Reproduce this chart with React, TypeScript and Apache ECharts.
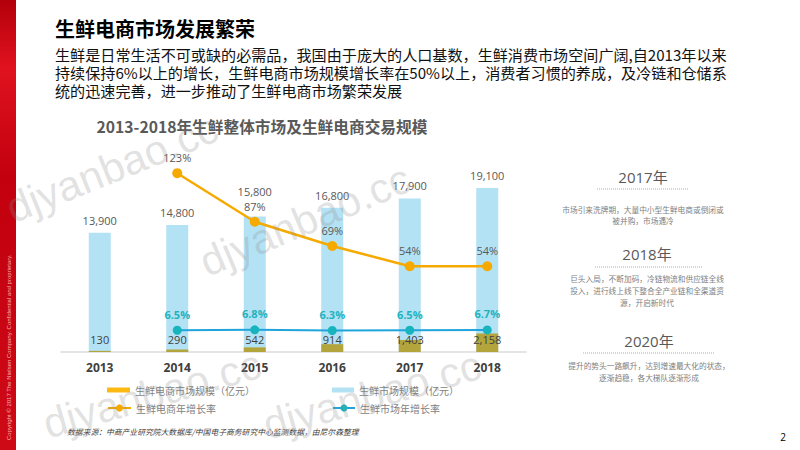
import React, { useEffect, useRef } from "react";
import * as echarts from "echarts";

const years = ["2013", "2014", "2015", "2016", "2017", "2018"];
const marketSize = [13900, 14800, 15800, 16800, 17900, 19100];
const ecomSize = [130, 290, 542, 914, 1403, 2158];
const ecomGrowth = [null, 123, 87, 69, 54, 54];
const marketGrowth = [null, 6.5, 6.8, 6.3, 6.5, 6.7];

const nameEcomSize = "生鲜电商市场规模（亿元）";
const nameMarketSize = "生鲜市场规模（亿元）";
const nameEcomGrowth = "生鲜电商年增长率";
const nameMarketGrowth = "生鲜市场年增长率";

const pageTitle = "生鲜电商市场发展繁荣";
const bodyLines = [
  "生鲜是日常生活不可或缺的必需品，我国由于庞大的人口基数，生鲜消费市场空间广阔,自2013年以来",
  "持续保持6%以上的增长，生鲜电商市场规模增长率在50%以上，消费者习惯的养成，及冷链和仓储系",
  "统的迅速完善，进一步推动了生鲜电商市场繁荣发展",
];
const chartTitle = "2013-2018年生鲜整体市场及生鲜电商交易规模";
const sourceText = "数据来源：中商产业研究院大数据库/中国电子商务研究中心监测数据，由尼尔森整理";
const copyrightText = "Copyright © 2017 The Nielsen Company. Confidential and proprietary.";

const panelYears = ["2017年", "2018年", "2020年"];
const panelTexts = [
  ["市场引来洗牌期，大量中小型生鲜电商或倒闭或", "被并购，市场遇冷"],
  ["巨头入局，不断加码，冷链物流和供应链全线", "投入，进行线上线下整合全产业链和全渠道资", "源，开启新时代"],
  ["提升的势头一路飙升，达到增速最大化的状态，", "逐渐趋稳，各大梯队逐渐形成"],
];
const watermark = "djyanbao.cc";

const CJK = "'Noto Sans CJK SC', 'Noto Sans', sans-serif";
const NUM = "'Open Sans', 'Noto Sans CJK SC', sans-serif";

const fmt = (v: number) => v.toLocaleString("en-US");

export default function App() {
  const ref = useRef<HTMLDivElement>(null);
  useEffect(() => {
    if (!ref.current) return;
    const chart = echarts.init(ref.current, undefined, { renderer: "svg" });

    const panelLayout = [
      { cx: 643, ty: 177, dy: 189, dx1: 597, dx2: 688, ly: [209, 220] },
      { cx: 647, ty: 254, dy: 267, dx1: 595, dx2: 702, ly: [278, 290, 302] },
      { cx: 649, ty: 341, dy: 353, dx1: 583, dx2: 715, ly: [365, 377] },
    ];
    const panelGraphics: any[] = [];
    panelYears.forEach((yr, i) => {
      const p = panelLayout[i];
      panelGraphics.push({
        type: "text", x: p.cx, y: p.ty,
        style: { text: yr, fontSize: 15, fontFamily: NUM, fill: "#595959", align: "center", verticalAlign: "middle" },
      });
      panelGraphics.push({
        type: "line", shape: { x1: p.dx1, y1: p.dy, x2: p.dx2, y2: p.dy },
        style: { stroke: "#b0b0b0", lineWidth: 1, lineDash: [1, 1] },
      });
      panelTexts[i].forEach((t, j) => {
        panelGraphics.push({
          type: "text", x: p.cx, y: p.ly[j],
          style: { text: t, fontSize: 7.7, fontFamily: CJK, fill: "#7f7f7f", align: "center", verticalAlign: "middle" },
        });
      });
    });

    const wmPos = [
      { x: 112, y: 168, r: 22 },
      { x: 305, y: 220, r: 23 },
      { x: 152, y: 394, r: 16 },
      { x: 372, y: 395, r: 16 },
    ];
    const wmGraphics = wmPos.map((w) => ({
      type: "text", x: w.x, y: w.y, rotation: (w.r * Math.PI) / 180, z: 100,
      style: {
        text: watermark, fontSize: 42, fontFamily: "'Liberation Sans', Arial, sans-serif",
        fill: "rgba(140,140,140,0.26)", align: "center", verticalAlign: "middle",
      },
    }));

    const legendBase = {
      textStyle: { color: "#7f7f7f", fontSize: 10, fontFamily: CJK },
      selectedMode: false,
      padding: 0,
    };

    const option: any = {
      animation: false,
      backgroundColor: "#ffffff",
      grid: { left: 61, right: 274, top: 130, bottom: 98 },
      legend: [
        { ...legendBase, left: 107, top: 385, itemWidth: 23, itemHeight: 5,
          data: [{ name: nameEcomSize, icon: "rect", itemStyle: { color: "#fdb913" } }] },
        { ...legendBase, left: 332, top: 385, itemWidth: 22, itemHeight: 5,
          data: [{ name: nameMarketSize, icon: "rect" }] },
        { ...legendBase, left: 107, top: 403, itemWidth: 23, itemHeight: 9,
          data: [{ name: nameEcomGrowth }] },
        { ...legendBase, left: 332, top: 403, itemWidth: 22, itemHeight: 9,
          data: [{ name: nameMarketGrowth }] },
      ],
      xAxis: {
        type: "category",
        data: years,
        axisLine: { lineStyle: { color: "#dcdcdc", width: 1.5 } },
        axisTick: { show: false },
        axisLabel: { color: "#404040", fontWeight: "bold", fontSize: 12, fontFamily: NUM, margin: 9 },
      },
      yAxis: [
        { type: "value", min: 0, max: 25874, show: false, splitLine: { show: false } },
        { type: "value", min: -9.64, max: 155.05, show: false, splitLine: { show: false } },
      ],
      series: [
        {
          name: nameMarketSize,
          type: "bar",
          barWidth: 22,
          itemStyle: { color: "#b4e2f5" },
          data: marketSize.map((v, i) => (i === 2 ? { value: v, label: { distance: 19 } } : v)),
          label: {
            show: true, position: "top", distance: 7, color: "#595959", fontSize: 11, fontFamily: NUM,
            formatter: (p: any) => fmt(p.value),
          },
          z: 2,
        },
        {
          name: nameEcomSize,
          type: "bar",
          barWidth: 22,
          barGap: "-100%",
          itemStyle: { color: "#b3a43c" },
          data: ecomSize,
          label: {
            show: true, position: "insideBottom", distance: 7, color: "#404040", fontSize: 11, fontFamily: NUM,
            formatter: (p: any) => fmt(p.value),
          },
          z: 3,
        },
        {
          name: nameEcomGrowth,
          type: "line",
          yAxisIndex: 1,
          data: ecomGrowth,
          symbol: "circle",
          symbolSize: 10,
          lineStyle: { color: "#f6aa00", width: 2.5 },
          itemStyle: { color: "#f6aa00" },
          label: {
            show: true, position: "top", distance: 5, color: "#595959", fontSize: 11, fontFamily: NUM,
            formatter: (p: any) => p.value + "%",
          },
          z: 5,
        },
        {
          name: nameMarketGrowth,
          type: "line",
          yAxisIndex: 1,
          data: marketGrowth,
          symbol: "circle",
          symbolSize: 9,
          lineStyle: { color: "#1fa4dc", width: 2 },
          itemStyle: { color: "#17b4be" },
          label: {
            show: true, position: "top", distance: 6, color: "#1fb3bd", fontSize: 11, fontWeight: "bold", fontFamily: NUM,
            formatter: (p: any) => p.value + "%",
          },
          z: 5,
        },
      ],
      graphic: [
        {
          type: "rect", shape: { x: 0, y: 0, width: 16, height: 450 },
          style: {
            fill: new echarts.graphic.LinearGradient(0, 0, 0, 1, [
              { offset: 0, color: "#b3000b" },
              { offset: 0.15, color: "#e0121f" },
              { offset: 0.4, color: "#c2000e" },
              { offset: 1, color: "#cf0a17" },
            ]),
          },
        },
        {
          type: "text", x: 9, y: 440, rotation: Math.PI / 2,
          style: { text: copyrightText, fontSize: 6, fontFamily: "'Liberation Sans', Arial, sans-serif", fill: "rgba(255,210,210,0.85)", align: "left", verticalAlign: "middle" },
        },
        {
          type: "text", x: 55, y: 28,
          style: { text: pageTitle, fontSize: 20, fontWeight: "bold", fontFamily: CJK, fill: "#000000", align: "left", verticalAlign: "middle" },
        },
        ...bodyLines.map((t, i) => ({
          type: "text", x: 55, y: 54 + i * 18,
          style: { text: t, fontSize: 15.1, lineHeight: 16, fontFamily: CJK, fill: "#111111", align: "left", verticalAlign: "middle" },
        })),
        {
          type: "text", x: 262, y: 126,
          style: { text: chartTitle, fontSize: 15.7, fontWeight: "bold", fontFamily: CJK, fill: "#595959", align: "center", verticalAlign: "middle" },
        },
        ...panelGraphics,
        {
          type: "text", x: 67, y: 431,
          style: { text: sourceText, fontSize: 7.8, fontStyle: "italic", fontFamily: CJK, fill: "#404040", align: "left", verticalAlign: "middle" },
        },
        {
          type: "text", x: 783, y: 437,
          style: { text: "2", fontSize: 10, fontFamily: NUM, fill: "#000000", align: "center", verticalAlign: "middle" },
        },
        ...wmGraphics,
      ],
    };

    chart.setOption(option);
    return () => chart.dispose();
  }, []);

  return (
    <div
      ref={ref}
      style={{ position: "fixed", left: 0, top: 0, width: 800, height: 450, background: "#ffffff" }}
    />
  );
}
